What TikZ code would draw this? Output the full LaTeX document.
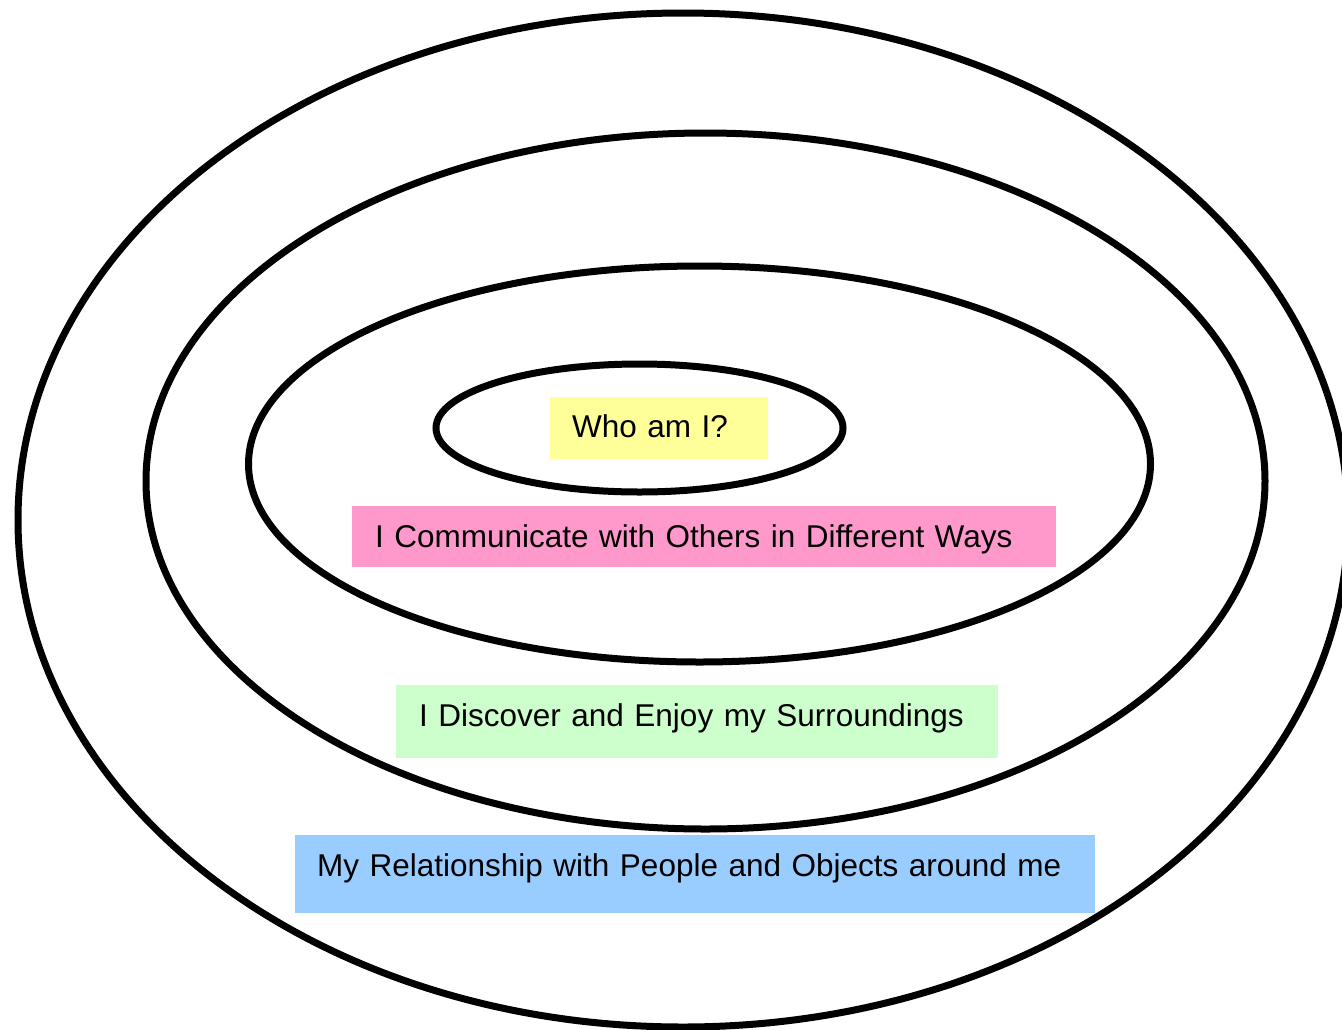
\documentclass[tikz,border=0pt]{standalone}
\usepackage{fontspec}
\setmainfont{Liberation Sans}
\usepackage{tikz}
\usetikzlibrary{positioning}
\definecolor{Lemon}{HTML}{FFFF99}
\definecolor{Rose}{HTML}{FF99CC}
\definecolor{Mint}{HTML}{CCFFCC}
\definecolor{Sky}{HTML}{99CCFF}
\tikzset{
  ring/.style={draw=black,line width=7pt},
  tag/.style={anchor=north west,align=left,inner xsep=22pt,inner ysep=0pt,
    text height=41pt,font=\fontsize{31.5}{38}\selectfont,text=black}
}

\begin{document}
\begin{tikzpicture}[x=1pt,y=-1pt]
  \useasboundingbox (0,0) rectangle (1342,1029);
  % rings, outside in
  \draw[ring] (683,520) ellipse [x radius=665pt,y radius=507pt];
  \draw[ring] (705.5,481) ellipse [x radius=559.5pt,y radius=348pt];
  \draw[ring] (699.5,464) ellipse [x radius=451pt,y radius=198pt];
  \draw[ring] (639.5,428) ellipse [x radius=203.5pt,y radius=64pt];
  % labels
  \node[tag,fill=Lemon,text width=174pt,text depth=22pt,text height=40pt] (who) at (550,397) {Who am I?};
  \node[tag,fill=Rose,text width=658pt,text depth=20pt,inner xsep=23pt] (talk) at (352,506) {I Communicate with Others in Different Ways};
  \node[tag,fill=Mint,text width=556pt,text depth=32pt,inner xsep=23pt] (find) at (396,685) {I Discover and Enjoy my Surroundings};
  \node[tag,fill=Sky,text width=756pt,text depth=37pt] (rel) at (295,835) {My Relationship with People and Objects around me};
\end{tikzpicture}
\end{document}
